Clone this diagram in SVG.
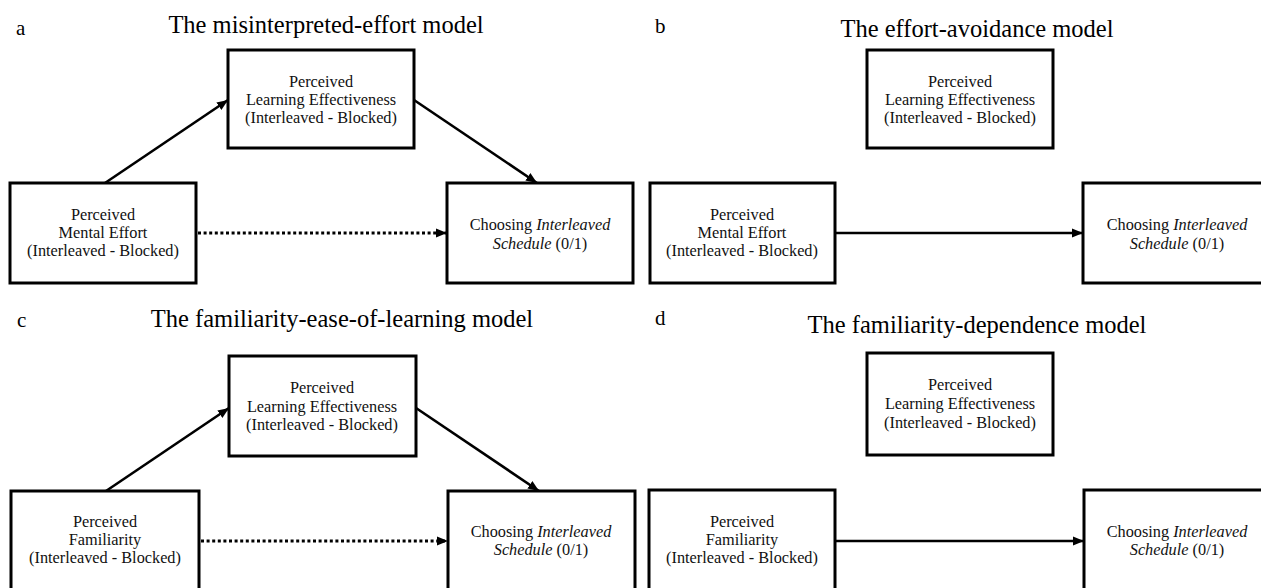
<svg xmlns="http://www.w3.org/2000/svg" width="1261" height="588" viewBox="0 0 1261 588">
<style>
.box{fill:#fff;stroke:#000;stroke-width:3}
.t{font-family:"Liberation Serif","Times New Roman",serif;font-size:16.3px;fill:#111;text-anchor:middle}
.title{font-family:"Liberation Serif","Times New Roman",serif;font-size:24.5px;fill:#000;text-anchor:middle}
.lab{font-family:"Liberation Serif","Times New Roman",serif;font-size:21px;fill:#000}
.i{font-style:italic}
.arr{fill:none;stroke:#000;stroke-width:2.6;marker-end:url(#ah)}
.dot{fill:none;stroke:#000;stroke-width:3;stroke-dasharray:3 2.6;marker-end:url(#ah)}
</style>
<defs>
<marker id="ah" markerUnits="userSpaceOnUse" markerWidth="12" markerHeight="10" refX="11" refY="5" orient="auto">
<path d="M0,0.5 L11,5 L0,9.5 Z" fill="#000"/>
</marker>
</defs>
<rect width="1261" height="588" fill="#fff"/>
<g id="labels">
<text class="lab" x="16" y="35">a</text>
<text class="lab" x="655" y="33">b</text>
<text class="lab" x="17" y="327">c</text>
<text class="lab" x="655" y="325">d</text>
<text class="title" x="326" y="33">The misinterpreted-effort model</text>
<text class="title" x="977" y="37">The effort-avoidance model</text>
<text class="title" x="342" y="327">The familiarity-ease-of-learning model</text>
<text class="title" x="977" y="333">The familiarity-dependence model</text>
</g>
<g id="connectors">
<line class="arr" x1="105" y1="183" x2="228" y2="100"/>
<line class="arr" x1="414" y1="100" x2="537" y2="183"/>
<line class="dot" x1="198" y1="233" x2="447" y2="233"/>
<line class="arr" x1="835" y1="233" x2="1083" y2="233"/>
<line class="arr" x1="106" y1="491" x2="229" y2="408"/>
<line class="arr" x1="416" y1="408" x2="539" y2="491"/>
<line class="dot" x1="201" y1="541" x2="448" y2="541"/>
<line class="arr" x1="835" y1="541" x2="1084" y2="541"/>
</g>
<g id="a-ple">
<rect class="box" x="228" y="50" width="186" height="98"/>
<text class="t" x="321" y="87">Perceived</text>
<text class="t" x="321" y="105">Learning Effectiveness</text>
<text class="t" x="321" y="123">(Interleaved - Blocked)</text>
</g>
<g id="a-pme">
<rect class="box" x="10" y="183" width="186" height="100"/>
<text class="t" x="103" y="220">Perceived</text>
<text class="t" x="103" y="238">Mental Effort</text>
<text class="t" x="103" y="256">(Interleaved - Blocked)</text>
</g>
<g id="a-choice">
<rect class="box" x="447" y="183" width="186" height="100"/>
<text class="t" x="540" y="230">Choosing <tspan class="i">Interleaved</tspan></text>
<text class="t" x="540" y="249"><tspan class="i">Schedule</tspan> (0/1)</text>
</g>
<g id="b-ple">
<rect class="box" x="867" y="50" width="186" height="98"/>
<text class="t" x="960" y="87">Perceived</text>
<text class="t" x="960" y="105">Learning Effectiveness</text>
<text class="t" x="960" y="123">(Interleaved - Blocked)</text>
</g>
<g id="b-pme">
<rect class="box" x="650" y="183" width="185" height="100"/>
<text class="t" x="742" y="220">Perceived</text>
<text class="t" x="742" y="238">Mental Effort</text>
<text class="t" x="742" y="256">(Interleaved - Blocked)</text>
</g>
<g id="b-choice">
<rect class="box" x="1083" y="183" width="188" height="100"/>
<text class="t" x="1177" y="230">Choosing <tspan class="i">Interleaved</tspan></text>
<text class="t" x="1177" y="249"><tspan class="i">Schedule</tspan> (0/1)</text>
</g>
<g id="c-ple">
<rect class="box" x="229" y="356" width="187" height="100"/>
<text class="t" x="322" y="393">Perceived</text>
<text class="t" x="322" y="412">Learning Effectiveness</text>
<text class="t" x="322" y="430">(Interleaved - Blocked)</text>
</g>
<g id="c-pf">
<rect class="box" x="11" y="491" width="188" height="110"/>
<text class="t" x="105" y="527">Perceived</text>
<text class="t" x="105" y="545">Familiarity</text>
<text class="t" x="105" y="563">(Interleaved - Blocked)</text>
</g>
<g id="c-choice">
<rect class="box" x="448" y="491" width="187" height="110"/>
<text class="t" x="541" y="537">Choosing <tspan class="i">Interleaved</tspan></text>
<text class="t" x="541" y="555"><tspan class="i">Schedule</tspan> (0/1)</text>
</g>
<g id="d-ple">
<rect class="box" x="867" y="353" width="186" height="102"/>
<text class="t" x="960" y="390">Perceived</text>
<text class="t" x="960" y="409">Learning Effectiveness</text>
<text class="t" x="960" y="428">(Interleaved - Blocked)</text>
</g>
<g id="d-pf">
<rect class="box" x="649" y="490" width="186" height="110"/>
<text class="t" x="742" y="527">Perceived</text>
<text class="t" x="742" y="545">Familiarity</text>
<text class="t" x="742" y="563">(Interleaved - Blocked)</text>
</g>
<g id="d-choice">
<rect class="box" x="1084" y="490" width="188" height="110"/>
<text class="t" x="1177" y="537">Choosing <tspan class="i">Interleaved</tspan></text>
<text class="t" x="1177" y="555"><tspan class="i">Schedule</tspan> (0/1)</text>
</g>
</svg>
